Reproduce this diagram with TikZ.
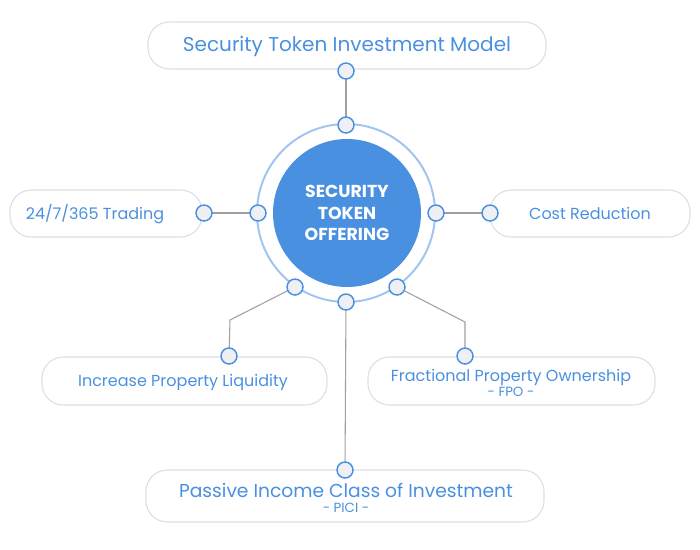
\documentclass[tikz,border=0pt]{standalone}
\usepackage{fontspec}
\setmainfont{Poppins}
\usepackage{xcolor}
\usepackage{tikz}
\definecolor{stoblue}{RGB}{74,144,224}
\definecolor{storing}{RGB}{160,198,240}
\definecolor{stogray}{RGB}{220,222,226}
\definecolor{stoline}{RGB}{160,160,160}
\definecolor{stodot}{RGB}{238,240,243}
\begin{document}
\begin{tikzpicture}[x=0.75pt,y=0.75pt,yscale=-1,xscale=1,
  box/.style={draw=stogray,line width=0.8pt,rounded corners=16pt,text=stoblue,font=\fontsize{13}{14}\selectfont},
  dot/.style={circle,draw=stoblue,fill=stodot,line width=1.1pt,minimum size=12pt,inner sep=0pt},
  link/.style={draw=stoline,line width=0.8pt}]
\useasboundingbox (0,0) rectangle (700,550);

% Boxes
\draw[box] (148,22) rectangle (546,69);
\node[text=stoblue,font=\fontsize{15}{16}\selectfont] (tim) at (347,46) {Security Token Investment Model};
\draw[box] (10,190) rectangle (202,237);
\node[text=stoblue,font=\fontsize{12}{14}\selectfont] (trd) at (95,214) {24/7/365 Trading};
\draw[box] (490,190) rectangle (690,237);
\node[text=stoblue,font=\fontsize{12}{14}\selectfont] (cst) at (590,213) {Cost Reduction};
\draw[box] (42,357) rectangle (327,405);
\node[text=stoblue,font=\fontsize{12}{14}\selectfont] (ipl) at (183,382) {Increase Property Liquidity};
\draw[box] (368,357) rectangle (655,405);
\node[text=stoblue,font=\fontsize{12}{14}\selectfont,align=center] (fpo) at (511,383) {Fractional Property Ownership\\[-3pt]{\fontsize{10}{12}\selectfont - FPO -}};
\draw[box] (146,470) rectangle (544,522);
\node[text=stoblue,font=\fontsize{14}{15}\selectfont,align=center] (pic) at (346,498) {Passive Income Class of Investment\\[-4pt]{\fontsize{10}{12}\selectfont - PICI -}};

% Centre
\draw[storing,line width=1.5pt] (346,213) circle [radius=89];
\node[circle,fill=stoblue,minimum size=111pt,inner sep=0pt,text=white,align=center,
  font=\fontsize{13}{16}\selectfont\bfseries] (sto) at (347,213) {SECURITY\\TOKEN\\OFFERING};

% Dots on ring and at boxes
\coordinate (ctop) at (346,125);
\coordinate (clft) at (258,213);
\coordinate (crgt) at (436,213);
\coordinate (cbot) at (346,302);
\coordinate (cbl) at (295,287);
\coordinate (cbr) at (397,287);
\coordinate (otop) at (346,71);
\coordinate (olft) at (204,213);
\coordinate (orgt) at (490,213);
\coordinate (obl) at (229,356);
\coordinate (obr) at (465,356);
\coordinate (obot) at (345,470);

% Links
\draw[link] (ctop) -- (otop);
\draw[link] (clft) -- (olft);
\draw[link] (crgt) -- (orgt);
\draw[link] (cbot) -- (obot);
\draw[link] (cbl) -- (230,320) -- (obl);
\draw[link] (cbr) -- (465,322) -- (obr);

\foreach \p in {ctop,clft,crgt,cbot,cbl,cbr,otop,olft,orgt,obl,obr,obot}
  \node[dot] at (\p) {};
\end{tikzpicture}
\end{document}
